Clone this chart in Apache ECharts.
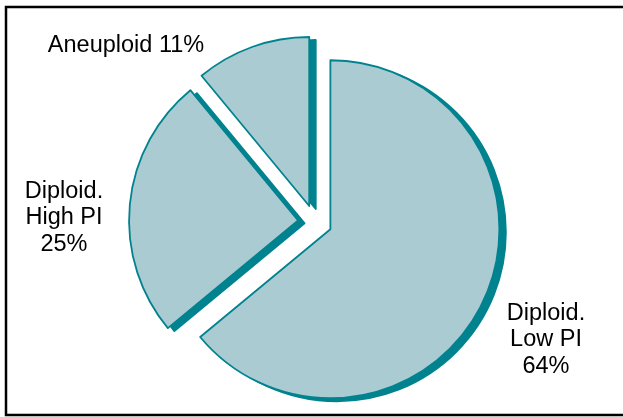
<!DOCTYPE html>
<html>
<head>
<meta charset="utf-8">
<script src="https://cdn.jsdelivr.net/npm/echarts@6/dist/echarts.min.js"></script>
<style>
  html, body { margin: 0; padding: 0; background: #fff; }
  #chart { width: 623px; height: 417px; }
</style>
</head>
<body>
<div id="chart"></div>
<script>
// slice data, clockwise from 12 o'clock
const names = ["Diploid. Low PI", "Diploid. High PI", "Aneuploid"];
const values = [64, 25, 11];
const labelTexts = ["Diploid.\nLow PI\n64%", "Diploid.\nHigh PI\n25%", "Aneuploid 11%"];

// where each label sits (centre of the text block)
const labelSpots = [[546, 340], [64, 218], [126, 46]];

const fill = "#aacbd2";
const edge = "#00838f";
const pieCenter = [315, 222];
const pieRadius = 169;
const shadowShift = [6.5, 3];

const chart = echarts.init(document.getElementById("chart"));

const slices = names.map((n, i) => ({ name: n, value: values[i], selected: true }));

// common pie settings
const basePie = {
  type: "pie",
  radius: pieRadius,
  startAngle: 90,
  clockwise: true,
  selectedMode: "multiple",
  selectedOffset: 17,
  emphasis: { disabled: true },
  label: { show: false },
  labelLine: { show: false },
  data: slices,
};

chart.setOption({
  animation: false,
  graphic: [
    {
      type: "rect",
      shape: { x: 6, y: 7, width: 630, height: 408 },
      style: { fill: "none", stroke: "#000", lineWidth: 2.5 },
    },
    ...labelTexts.map((t, i) => ({
      type: "text",
      x: labelSpots[i][0],
      y: labelSpots[i][1],
      style: {
        text: t,
        fill: "#000",
        font: '23.5px "Liberation Sans", Arial, sans-serif',
        lineHeight: 26.5,
        align: "center",
        verticalAlign: "middle",
      },
    })),
  ],
  series: [
    // dark offset copy, gives the thick edge on the right / bottom
    {
      ...basePie,
      silent: true,
      z: 1,
      center: [pieCenter[0] + shadowShift[0], pieCenter[1] + shadowShift[1]],
      itemStyle: { color: edge, borderColor: edge, borderWidth: 1.8 },
      select: { itemStyle: { color: edge, borderColor: edge, borderWidth: 1.8 } },
    },
    {
      ...basePie,
      z: 2,
      center: pieCenter,
      itemStyle: { color: fill, borderColor: edge, borderWidth: 1.8 },
      select: { itemStyle: { color: fill, borderColor: edge, borderWidth: 1.8 } },
    },
  ],
});
</script>
</body>
</html>
